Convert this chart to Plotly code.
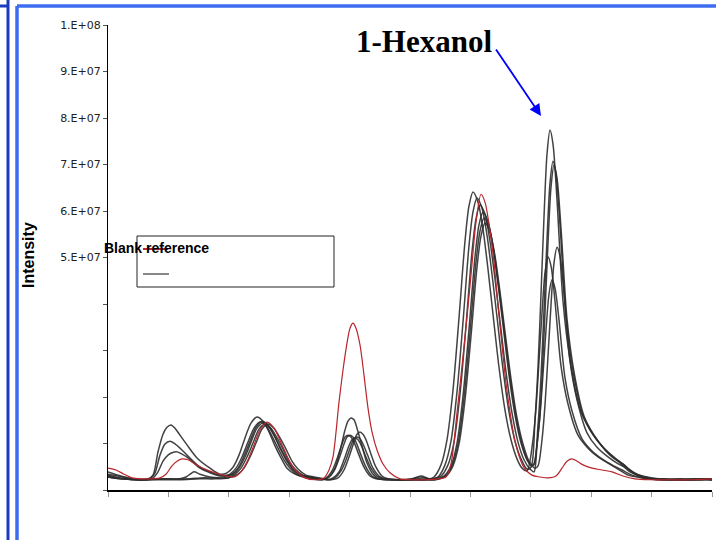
import plotly.graph_objects as go

# ---------------- data (x = scan number, y = intensity in millions of counts) ----------------
scan_blank = [0, 8, 16, 24, 34, 44, 52, 58, 64, 69, 74, 80, 87, 97, 107, 118, 126, 133, 140, 146, 152, 159, 166, 174,
              182, 189, 197, 207, 216, 221, 225, 231, 235, 239, 242, 245, 248, 252, 256, 260, 264, 269, 275, 282, 292,
              304, 317, 330, 338, 343, 349, 357, 363, 368, 373, 377, 381, 386, 390, 394, 398, 402, 407, 415, 424, 432,
              440, 448, 454, 459, 464, 469, 475, 484, 494, 504, 515, 527, 542, 562, 582, 604]
int_blank = [4.7, 4.3, 3.4, 2.6, 2.4, 2.4, 2.6, 3.4, 5.2, 6.2, 6.7, 6.5, 5.6, 4.5, 3.7, 3.0, 2.8, 3.9, 6.5, 9.7, 12.9,
             14.6, 13.3, 9.7, 6.0, 3.9, 2.6, 2.2, 2.6, 4.3, 7.1, 18.9, 25.8, 31.6, 34.8, 35.9, 34.8, 31.2, 24.7, 17.6,
             12.5, 8.6, 5.6, 3.7, 2.4, 2.2, 2.2, 2.4, 2.8, 5.6, 16.6, 32.9, 46.2, 57.6, 63.6, 61.9, 57.2, 49.0, 39.6,
             31.2, 23.0, 16.8, 10.5, 5.2, 3.2, 2.8, 2.6, 3.0, 4.7, 6.2, 6.7, 6.2, 5.4, 4.7, 4.3, 3.9, 3.0, 2.4, 2.2,
             2.2, 2.2, 2.4]

scan_s1 = [0, 10, 20, 32, 40, 45, 50, 55, 59, 63, 67, 72, 79, 89, 102, 112, 119, 125, 131, 137, 143, 149, 155, 161,
           167, 173, 179, 187, 195, 204, 214, 221, 227, 232, 237, 240, 243, 246, 249, 254, 259, 265, 271, 287, 302,
           312, 322, 326, 333, 339, 345, 351, 357, 361, 365, 370, 375, 380, 385, 391, 397, 403, 409, 414, 419, 425,
           428, 431, 434, 437, 440, 443, 447, 453, 460, 470, 480, 490, 500, 510, 520, 535, 552, 572, 592, 604]
int_s1 = [3.9, 3.2, 2.6, 2.2, 2.4, 3.2, 8.2, 12.0, 13.5, 14.0, 13.3, 11.8, 9.7, 6.9, 4.7, 3.4, 3.7, 4.9, 7.5, 11.2,
          14.4, 15.7, 14.8, 12.5, 9.5, 6.9, 4.7, 3.4, 2.8, 2.4, 2.2, 2.8, 4.7, 8.4, 12.9, 14.8, 15.5, 15.1, 13.3, 9.5,
          5.8, 3.4, 2.4, 2.2, 2.2, 2.8, 2.4, 2.8, 5.4, 10.8, 21.5, 37.0, 53.5, 61.1, 64.1, 61.9, 56.1, 47.5, 37.8,
          26.4, 17.2, 10.8, 6.7, 4.7, 4.1, 10.8, 17.6, 27.7, 38.1, 46.7, 50.1, 48.2, 40.6, 26.7, 18.5, 11.8, 9.0, 7.1,
          5.8, 4.5, 3.2, 2.6, 2.2, 2.4, 2.2, 2.2]

scan_s2 = [0, 10, 20, 32, 42, 47, 52, 57, 62, 67, 72, 79, 92, 102, 112, 120, 124, 130, 136, 142, 148, 154, 160, 166,
           172, 178, 184, 192, 200, 212, 222, 230, 236, 241, 246, 249, 252, 255, 258, 263, 268, 274, 280, 292, 304,
           313, 322, 330, 337, 343, 349, 355, 361, 365, 369, 374, 379, 384, 389, 395, 401, 407, 413, 419, 423, 427,
           430, 433, 436, 439, 442, 445, 449, 455, 462, 472, 482, 492, 502, 512, 522, 537, 557, 577, 597, 604]
int_s2 = [3.4, 3.0, 2.6, 2.2, 2.4, 3.7, 7.5, 9.9, 10.5, 9.9, 9.0, 7.5, 4.9, 3.9, 3.2, 3.2, 3.4, 4.7, 7.3, 10.5, 13.5,
          14.8, 14.0, 11.8, 9.0, 6.5, 4.7, 3.2, 2.8, 2.4, 2.2, 2.6, 4.3, 7.1, 10.3, 12.0, 12.5, 12.0, 10.8, 7.7, 4.9,
          3.0, 2.4, 2.2, 2.4, 3.0, 2.4, 2.8, 5.4, 10.5, 21.1, 36.1, 52.5, 59.8, 62.8, 60.6, 54.8, 46.4, 37.2, 26.0,
          16.8, 10.5, 6.7, 4.5, 4.9, 15.1, 26.4, 42.1, 58.7, 72.2, 77.4, 74.4, 62.4, 40.6, 28.0, 17.4, 12.9, 9.9, 7.5,
          5.8, 3.9, 2.6, 2.2, 2.2, 2.4, 2.2]

scan_s3 = [0, 10, 20, 32, 44, 50, 55, 60, 64, 69, 74, 80, 92, 102, 112, 120, 125, 131, 137, 143, 149, 155, 161, 167,
           173, 179, 185, 193, 201, 210, 218, 224, 229, 234, 237, 240, 243, 246, 251, 256, 262, 268, 282, 302, 317,
           333, 340, 346, 352, 358, 364, 368, 372, 377, 382, 387, 392, 398, 404, 410, 416, 422, 426, 429, 432, 435,
           438, 441, 444, 447, 451, 457, 464, 474, 484, 494, 504, 514, 524, 539, 557, 582, 604]
int_s3 = [3.0, 2.6, 2.4, 2.2, 2.4, 3.9, 6.2, 7.5, 8.0, 8.2, 7.7, 6.9, 4.7, 3.7, 3.0, 3.0, 3.4, 4.7, 7.1, 10.3, 13.3,
          14.4, 13.5, 11.4, 8.8, 6.5, 4.5, 3.2, 2.8, 2.4, 2.6, 4.1, 6.7, 9.9, 11.4, 11.8, 11.4, 10.3, 7.5, 4.9, 3.0,
          2.4, 2.2, 2.2, 2.2, 3.0, 5.4, 10.3, 20.6, 35.3, 51.2, 58.3, 61.3, 59.3, 53.5, 45.4, 36.3, 25.4, 16.6, 10.3,
          6.5, 4.5, 3.9, 9.7, 16.1, 24.9, 34.4, 42.1, 45.2, 43.4, 36.6, 24.1, 17.0, 11.0, 8.4, 6.7, 5.4, 4.3, 3.2,
          2.4, 2.2, 2.2, 2.2]

scan_s4 = [0, 12, 27, 42, 57, 72, 78, 82, 86, 92, 102, 112, 120, 127, 133, 139, 145, 151, 157, 163, 169, 175, 181,
           187, 195, 203, 212, 219, 225, 231, 236, 241, 244, 247, 250, 253, 258, 263, 269, 275, 292, 312, 327, 336,
           343, 349, 355, 361, 367, 371, 375, 380, 385, 390, 395, 401, 407, 413, 419, 423, 426, 430, 433, 436, 439,
           442, 445, 448, 452, 458, 465, 475, 485, 495, 505, 515, 525, 540, 557, 582, 604]
int_s4 = [2.8, 2.4, 2.2, 2.2, 2.4, 2.4, 2.8, 3.4, 3.9, 3.4, 2.8, 2.6, 2.6, 3.4, 4.7, 7.1, 10.1, 13.1, 14.2, 13.3,
          11.2, 8.8, 6.2, 4.5, 3.2, 2.8, 2.4, 2.2, 2.6, 3.9, 6.5, 9.5, 10.8, 11.2, 10.8, 9.7, 7.1, 4.7, 3.0, 2.4, 2.2,
          2.2, 2.2, 3.0, 5.2, 10.1, 20.2, 34.6, 50.1, 57.0, 59.8, 57.8, 52.2, 44.3, 35.5, 24.7, 16.1, 10.1, 6.5, 5.2,
          5.4, 14.0, 24.3, 38.7, 53.8, 66.0, 70.7, 67.9, 57.0, 37.2, 25.6, 16.1, 12.0, 9.2, 7.1, 5.6, 3.7, 2.6, 2.4,
          2.2, 2.4]

scan_s5 = [0, 12, 27, 42, 62, 82, 92, 107, 116, 122, 128, 134, 140, 146, 152, 158, 164, 170, 176, 182, 190, 198, 208,
           214, 220, 226, 231, 236, 239, 242, 245, 248, 253, 258, 264, 270, 292, 312, 327, 337, 344, 350, 356, 362,
           368, 372, 376, 381, 386, 391, 396, 402, 408, 414, 420, 425, 431, 434, 437, 440, 443, 446, 449, 453, 459,
           466, 476, 486, 496, 506, 516, 526, 541, 562, 587, 604]
int_s5 = [3.2, 2.6, 2.2, 2.4, 2.4, 2.4, 2.6, 2.6, 2.6, 3.4, 4.7, 7.1, 10.3, 13.3, 14.6, 13.8, 11.6, 9.0, 6.5, 4.7,
          3.2, 2.8, 2.4, 2.2, 2.6, 4.1, 6.7, 9.9, 11.4, 11.8, 11.4, 10.3, 7.5, 4.9, 3.0, 2.4, 2.2, 2.4, 2.2, 3.0, 5.2,
          9.9, 19.8, 33.8, 49.0, 55.7, 58.5, 56.5, 51.2, 43.4, 34.6, 24.3, 15.9, 9.9, 6.2, 5.4, 13.8, 23.9, 38.1,
          53.1, 65.1, 69.9, 67.1, 56.3, 36.8, 25.4, 15.9, 11.8, 9.0, 7.1, 5.4, 3.7, 2.6, 2.2, 2.4, 2.2]

scan_s6 = [0, 12, 32, 52, 72, 92, 107, 120, 130, 136, 142, 148, 154, 160, 166, 172, 178, 184, 190, 198, 206, 216,
           222, 227, 233, 238, 243, 246, 249, 252, 255, 260, 265, 271, 277, 292, 312, 327, 338, 345, 351, 357, 363,
           369, 373, 377, 382, 387, 392, 397, 403, 409, 415, 421, 427, 430, 434, 437, 440, 443, 446, 449, 452, 456,
           462, 469, 479, 489, 499, 509, 519, 529, 544, 567, 592, 604]
int_s6 = [2.8, 2.4, 2.2, 2.2, 2.2, 2.4, 2.4, 2.6, 3.4, 4.7, 7.1, 10.1, 13.1, 14.2, 13.3, 11.2, 8.8, 6.2, 4.5, 3.2,
          2.8, 2.4, 2.2, 2.6, 4.1, 6.5, 9.5, 11.0, 11.4, 11.0, 9.9, 7.3, 4.7, 3.0, 2.4, 2.2, 2.2, 2.4, 3.0, 5.2, 9.9,
          19.4, 33.1, 47.9, 54.6, 57.4, 55.5, 50.3, 42.6, 34.0, 23.9, 15.5, 9.9, 6.2, 4.7, 5.2, 10.8, 18.3, 28.8,
          39.8, 48.8, 52.2, 50.3, 42.4, 27.7, 19.4, 12.3, 9.2, 7.3, 5.8, 4.7, 3.4, 2.6, 2.2, 2.2, 2.4]

sample_scans = [scan_s1, scan_s2, scan_s3, scan_s4, scan_s5, scan_s6]
sample_ints = [int_s1, int_s2, int_s3, int_s4, int_s5, int_s6]

y_tick_values = [0, 1e7, 2e7, 3e7, 4e7, 5e7, 6e7, 7e7, 8e7, 9e7, 1e8]
y_tick_text = ["", "", "", "", "", "5.E+07", "6.E+07", "7.E+07", "8.E+07", "9.E+07", "1.E+08"]
legend_label = "Blank reference"
peak_label = "1-Hexanol"
y_title = "Intensity"

# ---------------- layout geometry (pixels) ----------------
W, H = 716, 540
L, R, T, B = 108, 4, 25, 50
PW, PH = W - L - R, H - T - B


def px(x, y):
    """page pixel -> paper coordinates (for decorations only)"""
    return (x - L) / PW, (H - B - y) / PH


fig = go.Figure()
for sx, si in zip(sample_scans, sample_ints):
    fig.add_trace(go.Scatter(x=sx, y=[v * 1e6 for v in si], mode="lines",
                             line=dict(color="rgba(45,45,45,0.9)", width=1.5, shape="spline", smoothing=0.8),
                             showlegend=False, hoverinfo="skip"))
fig.add_trace(go.Scatter(x=scan_blank, y=[v * 1e6 for v in int_blank], mode="lines", name=legend_label,
                         line=dict(color="#b8262c", width=1.2, shape="spline", smoothing=0.8),
                         showlegend=False, hoverinfo="skip"))

shapes = []
# slide frame lines
for (x0, y0, x1, y1, col, w) in [
    (8, 0, 8, 540, "#1b3bbf", 3), (0, 6, 8, 6, "#1b3bbf", 3),
    (17, 6, 17, 540, "#3c6cf0", 3.5), (17, 6, 716, 6, "#3c6cf0", 3.5)]:
    a, b = px(x0, y0)
    c, d = px(x1, y1)
    shapes.append(dict(type="line", xref="paper", yref="paper", x0=a, y0=b, x1=c, y1=d,
                       line=dict(color=col, width=w)))
# legend box
a, b = px(137, 236)
c, d = px(334, 287)
shapes.append(dict(type="rect", xref="paper", yref="paper", x0=a, y0=b, x1=c, y1=d,
                   line=dict(color="#222", width=1), fillcolor="rgba(0,0,0,0)"))
for (x0, x1, yy, col) in [(143, 168, 249, "#b8262c"), (143, 169, 274, "#888888")]:
    a, b = px(x0, yy)
    c, d = px(x1, yy)
    shapes.append(dict(type="line", xref="paper", yref="paper", x0=a, y0=b, x1=c, y1=d,
                       line=dict(color=col, width=2)))

annotations = []
ax_, ay_ = px(102, 248)
annotations.append(dict(text=legend_label, xref="paper", yref="paper", x=ax_, y=ay_, xanchor="left",
                        yanchor="middle", showarrow=False,
                        font=dict(family="Liberation Sans, Arial", size=14, color="black", weight="bold")))
ax_, ay_ = px(28, 255)
annotations.append(dict(text="<b>" + y_title + "</b>", xref="paper", yref="paper", x=ax_, y=ay_, xanchor="center",
                        yanchor="middle", textangle=-90, showarrow=False,
                        font=dict(family="Liberation Sans, Arial", size=16, color="black")))
ax_, ay_ = px(424, 41)
annotations.append(dict(text="<b>" + peak_label + "</b>", xref="paper", yref="paper", x=ax_, y=ay_,
                        xanchor="center", yanchor="middle", showarrow=False,
                        font=dict(family="Liberation Serif, Times New Roman", size=31, color="black")))
tx, ty = px(541, 116)
annotations.append(dict(text="", xref="paper", yref="paper", x=tx, y=ty, ax=495 - 541, ay=48 - 116,
                        showarrow=True, arrowhead=2, arrowsize=1.3, arrowwidth=1.8, arrowcolor="#0000ff"))

fig.update_layout(
    width=W, height=H, margin=dict(l=L, r=R, t=T, b=B),
    paper_bgcolor="white", plot_bgcolor="white",
    shapes=shapes, annotations=annotations,
    xaxis=dict(range=[0, 604], tick0=0, dtick=60.4, ticks="outside", ticklen=5, tickcolor="#999",
               showticklabels=False, showgrid=False, zeroline=False, showline=True,
               linecolor="black", linewidth=1.5),
    yaxis=dict(range=[0, 1e8], tickvals=y_tick_values, ticktext=y_tick_text, ticks="outside", ticklen=4,
               tickcolor="#555", showgrid=False, zeroline=False, showline=True, linecolor="black", linewidth=1,
               tickfont=dict(family="DejaVu Sans, Verdana", size=11, color="#222")),
)

fig.write_html("out.html")
